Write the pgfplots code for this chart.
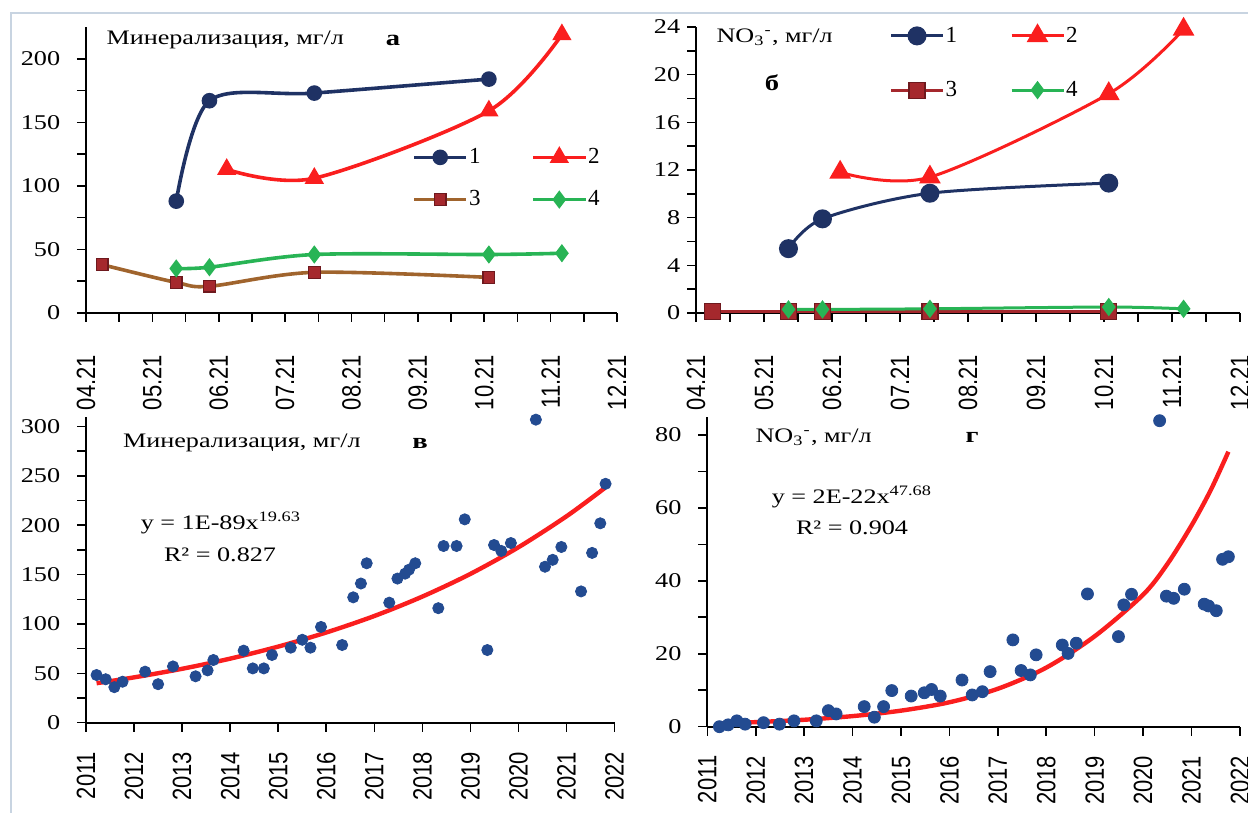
\documentclass[border=0pt]{standalone}
\usepackage{fontspec}
\setmainfont{Liberation Serif}
\setsansfont{Liberation Sans}
\usepackage{pgfplots}
\pgfplotsset{compat=1.18}
\definecolor{navy}{RGB}{31,50,100}
\definecolor{redl}{RGB}{250,30,30}
\definecolor{brownl}{RGB}{160,100,45}
\definecolor{brownm}{RGB}{165,40,45}
\definecolor{brownd}{RGB}{110,25,30}
\definecolor{greenl}{RGB}{40,180,85}
\definecolor{dotblue}{RGB}{35,75,145}
\definecolor{framec}{RGB}{200,212,225}
\newcommand{\tfont}{\fontsize{10.3}{12}\selectfont}
\newcommand{\lfont}{\fontsize{11.5}{12}\selectfont}
\pgfplotsset{
  base/.style={scale only axis, clip=false,
    axis x line*=bottom, axis y line*=left,
    tick align=outside, major tick length=4.5pt, minor tick length=4.5pt,
    every tick/.style={black, line width=0.8pt},
    axis line style={black, line width=1pt},
    /pgf/number format/assume math mode=true,
    /pgf/number format/1000 sep={},
    yticklabel style={font=\fontsize{10.5}{11}\selectfont, xshift=-4pt, xscale=1.25},
  },
  months/.style={xmin=0, xmax=8, xtick={0,...,8},
    xticklabels={04.21,05.21,06.21,07.21,08.21,09.21,10.21,11.21,12.21},
    minor x tick num=1,
    xticklabel style={font=\sffamily\fontsize{11}{12}\selectfont, yshift=-13pt, xscale=1.2, rotate=90, anchor=east}},
  years/.style={xmin=2011, xmax=2022, xtick={2011,...,2022},
    xticklabels={2011,2012,2013,2014,2015,2016,2017,2018,2019,2020,2021,2022},
    xticklabel style={font=\sffamily\fontsize{11}{12}\selectfont, yshift=-6.5pt, xscale=1.2, rotate=90, anchor=east}},
  legimg/.style={legend image code/.code={\draw[mark repeat=2, mark phase=2, ##1] plot coordinates {(0pt,0pt) (13pt,0pt) (26pt,0pt)};}},
  s1/.style={navy, line width=1.8pt, smooth, mark=*, mark options={solid, fill=navy, draw=navy}},
  s2/.style={redl, line width=1.8pt, smooth, mark=triangle*, mark options={solid, fill=redl, draw=redl}},
  s3/.style={brownl, line width=1.8pt, smooth, mark=square*, mark options={solid, fill=brownm, draw=brownd, line width=0.6pt}},
  s4/.style={greenl, line width=1.8pt, smooth, mark=diamond*, mark options={solid, fill=greenl, draw=greenl}},
}
\begin{document}
\begin{tikzpicture}
\path[use as bounding box] (0,0) rectangle (624pt,411.5pt);
\draw[framec, line width=0.8pt] (5.5pt,5pt) -- (5.5pt,405pt) -- (624pt,405pt);

% ---------- panel a ----------
\begin{axis}[base, months, at={(43pt,255pt)}, anchor=south west,
  width=265.5pt, height=143pt, ymin=0, ymax=225,
  ytick={0,50,...,200}, minor y tick num=1, legimg,
  legend columns=2,
  legend style={at={(0.614,0.4703)}, anchor=west, draw=none, fill=none, inner sep=0pt,
    font=\lfont, row sep=8pt, column sep=-1.5pt,
    /tikz/every even column/.append style={column sep=23.5pt}},
  legend cell align=left]
\addplot[s1, mark size=3pt] coordinates {(1.36,88) (1.86,167) (3.44,173) (6.07,184)};
\addplot[s2, mark size=3.8pt] coordinates {(2.12,113) (3.44,106) (6.07,159) (7.17,219)};
\addplot[s3, mark size=2.9pt] coordinates {(0.245,38) (1.36,24) (1.86,21) (3.44,32) (6.07,28)};
\addplot[s4, mark size=3.1pt] coordinates {(1.36,35) (1.86,36) (3.44,46) (6.07,46) (7.17,47)};
\legend{1,2,3,4}
\end{axis}

% ---------- panel b ----------
\begin{axis}[base, months, at={(348pt,255pt)}, anchor=south west,
  width=272pt, height=143pt, ymin=0, ymax=24,
  ytick={0,4,...,24}, minor y tick num=1, legimg,
  yticklabel style={xshift=4pt},
  legend columns=2,
  legend style={at={(0.355,0.874)}, anchor=west, draw=none, fill=none, inner sep=0pt,
    font=\lfont, row sep=14pt, column sep=-1.5pt,
    /tikz/every even column/.append style={column sep=24.5pt}},
  legend cell align=left]
\addplot[s1, line width=1.5pt, mark size=4pt] coordinates {(1.36,5.4) (1.86,7.9) (3.44,10.05) (6.07,10.9)};
\addplot[s2, line width=1.5pt, mark size=4.8pt] coordinates {(2.12,11.8) (3.44,11.4) (6.07,18.4) (7.17,23.8)};
\addplot[s3, color=brownm, line width=1.5pt, mark size=4pt] coordinates {(0.245,0.15) (1.36,0.15) (1.86,0.15) (3.44,0.15) (6.07,0.15)};
\addplot[s4, line width=1.5pt, mark size=3.4pt] coordinates {(1.36,0.3) (1.86,0.3) (3.44,0.35) (6.07,0.5) (7.17,0.35)};
\legend{1,2,3,4}
\end{axis}

% ---------- panel c ----------
\begin{axis}[base, years, at={(43pt,50.15pt)}, anchor=south west,
  width=264.35pt, height=153pt, ymin=0, ymax=310,
  ytick={0,50,...,300}, minor y tick num=1]
\addplot[only marks, mark=*, mark size=2.8pt, mark options={fill=dotblue, draw=dotblue}] coordinates {
(2011.22,48.3) (2011.41,44) (2011.59,36) (2011.76,41.5) (2012.23,51.7) (2012.50,39) (2012.81,57)
(2013.28,47) (2013.53,53) (2013.65,63.5) (2014.28,73) (2014.47,55) (2014.70,55) (2014.87,68.6)
(2015.26,76) (2015.50,84) (2015.67,76) (2015.89,97) (2016.33,78.7) (2016.56,127) (2016.72,141)
(2016.84,161.5) (2017.31,121.6) (2017.48,146) (2017.64,151) (2017.72,155) (2017.85,161.5)
(2018.33,116) (2018.44,179) (2018.71,179) (2018.88,206) (2019.35,73.6) (2019.49,180) (2019.64,174)
(2019.84,182) (2020.36,307) (2020.55,158) (2020.71,165) (2020.89,178) (2021.30,133) (2021.53,172)
(2021.70,202) (2021.81,242)};
\addplot[redl, line width=2.2pt, smooth] coordinates {(2011.22,40) (2012,45.9) (2013,54.6) (2014,64.9)
(2015,77.1) (2016,91.4) (2017,108.1) (2018,127.8) (2019,150.8) (2020,177.8) (2021,209.2) (2021.8,238)};
\end{axis}

% ---------- panel d ----------
\begin{axis}[base, years, at={(353.65pt,48.15pt)}, anchor=south west,
  width=266.35pt, height=155pt, ymin=0, ymax=85,
  ytick={0,20,...,80}, minor y tick num=1]
\addplot[only marks, mark=*, mark size=3pt, mark options={fill=dotblue, draw=dotblue}] coordinates {
(2011.25,0) (2011.43,0.5) (2011.61,1.6) (2011.78,0.7) (2012.16,1.1) (2012.49,0.7) (2012.79,1.6)
(2013.25,1.6) (2013.50,4.4) (2013.66,3.5) (2014.24,5.5) (2014.45,2.6) (2014.64,5.5) (2014.81,9.9)
(2015.21,8.4) (2015.48,9.3) (2015.63,10.2) (2015.81,8.4) (2016.26,12.8) (2016.47,8.7) (2016.68,9.6)
(2016.84,15.1) (2017.31,23.8) (2017.48,15.4) (2017.67,14.2) (2017.79,19.7) (2018.33,22.4)
(2018.45,20.1) (2018.62,22.9) (2018.85,36.4) (2019.49,24.7) (2019.60,33.4) (2019.76,36.3)
(2020.34,83.9) (2020.48,35.8) (2020.63,35.2) (2020.85,37.7) (2021.26,33.6) (2021.35,33.1)
(2021.51,31.8) (2021.64,45.9) (2021.76,46.6)};
\addplot[redl, line width=2.2pt, smooth] coordinates {(2011.25,0.9) (2012,1.25) (2013,1.9) (2014,2.9)
(2015,4.4) (2016,6.7) (2017,10.4) (2018,16.2) (2019,24.8) (2020,36.2) (2020.5,44.6) (2021,55.2)
(2021.4,65) (2021.76,75.4)};
\end{axis}

% ---------- annotations ----------
\node[anchor=west, inner sep=0pt, xscale=1.27] at (53pt,391.5pt) {\tfont Минерализация, мг/л};
\node[inner sep=0pt, xscale=1.3] at (196.5pt,391.5pt) {\fontsize{11}{12}\selectfont\bfseries а};
\node[anchor=west, inner sep=0pt, xscale=1.27] at (358pt,393pt) {\tfont NO\textsubscript{3}\textsuperscript{-}, мг/л};
\node[inner sep=0pt, xscale=1.3] at (386pt,370pt) {\fontsize{11}{12}\selectfont\bfseries б};
\node[anchor=west, inner sep=0pt, xscale=1.27] at (61.3pt,190pt) {\tfont Минерализация, мг/л};
\node[inner sep=0pt, xscale=1.3] at (210pt,190pt) {\fontsize{11}{12}\selectfont\bfseries в};
\node[inner sep=0pt, xscale=1.27] at (110.5pt,150pt) {\tfont y = 1E-89x\textsuperscript{19.63}};
\node[inner sep=0pt, xscale=1.27] at (110pt,134pt) {\tfont R² = 0.827};
\node[anchor=west, inner sep=0pt, xscale=1.27] at (377.5pt,193pt) {\tfont NO\textsubscript{3}\textsuperscript{-}, мг/л};
\node[inner sep=0pt, xscale=1.3] at (486pt,193pt) {\fontsize{11}{12}\selectfont\bfseries г};
\node[inner sep=0pt, xscale=1.27] at (426pt,163pt) {\tfont y = 2E-22x\textsuperscript{47.68}};
\node[inner sep=0pt, xscale=1.27] at (426pt,147.5pt) {\tfont R² = 0.904};
\end{tikzpicture}
\end{document}
